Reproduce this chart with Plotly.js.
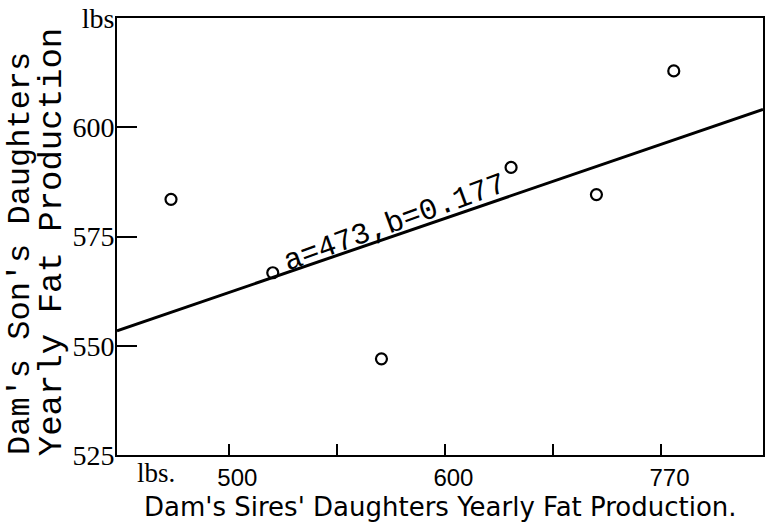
<!DOCTYPE html>
<html>
<head>
<meta charset="utf-8">
<script src="https://cdn.plot.ly/plotly-3.0.1.min.js"></script>
<style>html,body{margin:0;padding:0;background:#fff;}#chart{width:767px;height:526px;}</style>
</head>
<body>
<div id="chart"></div>
<script>
// Observed points (Dam's Sires' Daughters vs Dam's Son's Daughters yearly fat, lbs)
const sireDaughtersFat = [473.0, 520.1, 570.4, 630.4, 669.9, 705.7];
const sonDaughtersFat  = [583.5, 566.7, 547.0, 590.8, 584.6, 612.9];

// Regression line endpoints as drawn
const lineX = [448, 747];
const lineY = [553.4, 604.1];

// Axis ticks
const xTickVals = [500, 550, 600, 650, 700];
const xTickText = ['500', '', '600', '', '770'];
const yTickVals = [525, 550, 575, 600, 625];
const yTickText = ['525', '550', '575', '600', 'lbs'];

const lineLabel = 'a=473,b=0.177';
const yTitleLine1 = "Dam's Son's Daughters";
const yTitleLine2 = 'Yearly Fat Production';
const xTitle = "Dam's Sires' Daughters Yearly Fat Production.";
const xUnit = 'lbs.';

const traces = [
  {
    x: lineX, y: lineY, mode: 'lines', type: 'scatter',
    line: {color: '#000', width: 3}, hoverinfo: 'skip', showlegend: false
  },
  {
    x: sireDaughtersFat, y: sonDaughtersFat, mode: 'markers', type: 'scatter',
    marker: {symbol: 'circle-open', size: 11, color: '#000', line: {width: 2.2, color: '#000'}},
    showlegend: false
  }
];

const layout = {
  width: 767, height: 526,
  margin: {l: 117, r: 4, t: 18, b: 71},
  paper_bgcolor: '#fff', plot_bgcolor: '#fff',
  showlegend: false,
  xaxis: {
    range: [448, 747], showgrid: false, zeroline: false,
    showline: true, mirror: true, linecolor: '#000', linewidth: 2,
    ticks: 'inside', ticklen: 11, tickwidth: 2, tickcolor: '#000',
    tickmode: 'array', tickvals: xTickVals, ticktext: xTickText,
    ticklabelshift: 8,
    tickfont: {family: 'Liberation Sans, DejaVu Sans', size: 24, color: '#000'}
  },
  yaxis: {
    range: [525, 625], showgrid: false, zeroline: false,
    showline: true, mirror: true, linecolor: '#000', linewidth: 2,
    ticks: 'inside', ticklen: 20, tickwidth: 2, tickcolor: '#000',
    tickmode: 'array', tickvals: yTickVals, ticktext: yTickText,
    ticklabelstandoff: -5,
    tickfont: {family: 'Liberation Serif, DejaVu Serif', size: 28, color: '#000'}
  },
  annotations: [
    {
      text: lineLabel, x: 576.9, y: 578.0, xref: 'x', yref: 'y',
      showarrow: false, textangle: -20, xanchor: 'center', yanchor: 'middle',
      font: {family: 'Liberation Mono, DejaVu Sans Mono', size: 30, color: '#000'}
    },
    {
      text: yTitleLine1, x: -0.1486, y: 0.46, xref: 'paper', yref: 'paper',
      showarrow: false, textangle: -90, xanchor: 'center', yanchor: 'middle',
      font: {family: 'Liberation Mono, DejaVu Sans Mono', size: 32, color: '#000'}
    },
    {
      text: yTitleLine2, x: -0.1006, y: 0.487, xref: 'paper', yref: 'paper',
      showarrow: false, textangle: -90, xanchor: 'center', yanchor: 'middle',
      font: {family: 'Liberation Mono, DejaVu Sans Mono', size: 34, color: '#000'}
    },
    {
      text: xTitle, x: 0.5015, y: -0.119, xref: 'paper', yref: 'paper',
      showarrow: false, xanchor: 'center', yanchor: 'middle',
      font: {family: 'DejaVu Sans, Liberation Sans', size: 26, color: '#000'}
    },
    {
      text: xUnit, x: 0.0604, y: -0.0412, xref: 'paper', yref: 'paper',
      showarrow: false, xanchor: 'center', yanchor: 'middle',
      font: {family: 'Liberation Serif, DejaVu Serif', size: 27, color: '#000'}
    }
  ]
};

Plotly.newPlot('chart', traces, layout, {staticPlot: true, displayModeBar: false});
</script>
</body>
</html>
